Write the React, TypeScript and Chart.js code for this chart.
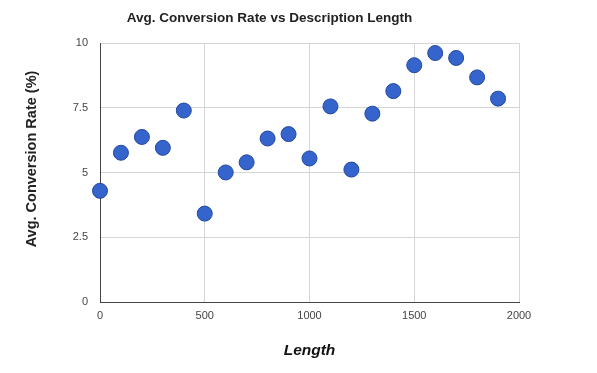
import React, { useEffect, useRef } from "react";
import { Chart, registerables } from "chart.js";

Chart.register(...registerables);

const lengths = [0, 100, 200, 300, 400, 500, 600, 700, 800, 900, 1000, 1100, 1200, 1300, 1400, 1500, 1600, 1700, 1800, 1900];
const rates = [4.3, 5.77, 6.38, 5.96, 7.4, 3.42, 5.01, 5.4, 6.32, 6.49, 5.55, 7.56, 5.12, 7.28, 8.15, 9.15, 9.62, 9.43, 8.68, 7.86];

const titleText = "Avg. Conversion Rate vs Description Length";
const xTitle = "Length";
const yTitle = "Avg. Conversion Rate (%)";

const yTitlePlugin = {
  id: "yTitlePlugin",
  afterDraw(chart: any) {
    const c = chart.ctx;
    c.save();
    c.translate(32, 159);
    c.rotate(-Math.PI / 2);
    c.font = "bold 14.5px Arial, 'Liberation Sans', sans-serif";
    c.fillStyle = "#222";
    c.textAlign = "center";
    c.textBaseline = "middle";
    c.fillText(yTitle, 0, 0);
    c.restore();
  },
};

export default function App() {
  const ref = useRef<HTMLCanvasElement | null>(null);
  useEffect(() => {
    document.body.style.margin = "0";
    const ctx = ref.current!;
    const chart = new Chart(ctx, {
      type: "scatter",
      data: {
        datasets: [
          {
            data: lengths.map((x, i) => ({ x, y: rates[i] })),
            backgroundColor: "#3464cc",
            borderColor: "#23489e",
            borderWidth: 1,
            pointRadius: 7.5,
            clip: false,
          },
        ],
      },
      plugins: [yTitlePlugin],
      options: {
        responsive: false,
        animation: false,
        devicePixelRatio: 1,
        layout: { padding: { top: 4, right: 78, bottom: 13, left: 20 } },
        plugins: {
          legend: { display: false },
          tooltip: { enabled: false },
          title: {
            display: true,
            text: titleText,
            color: "#222",
            font: { family: "Arial, Liberation Sans", size: 13.5, weight: "bold" },
            padding: { top: 6, bottom: 17 },
          },
        },
        scales: {
          x: {
            type: "linear",
            min: 0,
            max: 2000,
            ticks: {
              stepSize: 500,
              color: "#444",
              font: { family: "Arial, Liberation Sans", size: 11 },
              padding: 7,
              callback: (v: any) => String(v),
            },
            grid: { color: "#d6d6d6", drawTicks: false },
            border: { color: "#444", width: 1 },
            title: {
              display: true,
              text: xTitle,
              color: "#111",
              font: { family: "Arial, Liberation Sans", size: 15.5, weight: "bold", style: "italic" },
              padding: { top: 12, bottom: 0 },
            },
          },
          y: {
            min: 0,
            max: 10,
            afterFit: (s: any) => {
              s.width = 80;
            },
            ticks: { stepSize: 2.5, color: "#444", font: { family: "Arial, Liberation Sans", size: 11 }, padding: 12 },
            grid: { color: "#d6d6d6", drawTicks: false },
            border: { color: "#444", width: 1 },
          },
        },
      },
    });
    return () => chart.destroy();
  }, []);
  return (
    <div style={{ width: 597, height: 373, background: "#fff" }}>
      <canvas ref={ref} width={597} height={373} style={{ display: "block" }} />
    </div>
  );
}
